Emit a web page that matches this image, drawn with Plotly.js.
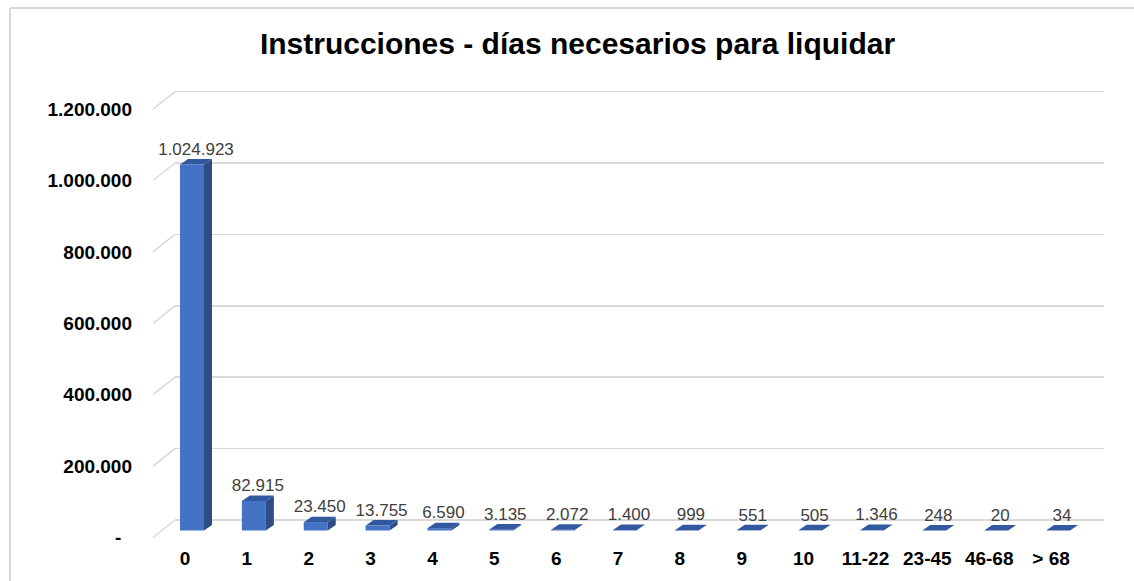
<!DOCTYPE html>
<html>
<head>
<meta charset="utf-8">
<script src="https://cdn.plot.ly/plotly-3.0.1.min.js"></script>
<style>html,body{margin:0;padding:0;background:#fff;}#chart{width:1134px;height:581px;}</style>
</head>
<body>
<div id="chart"></div>
<script>
// ---- data ----
const categories = ["0","1","2","3","4","5","6","7","8","9","10","11-22","23-45","46-68","> 68"];
const instrucciones = [1024923, 82915, 23450, 13755, 6590, 3135, 2072, 1400, 999, 551, 505, 1346, 248, 20, 34];
const yTickVals = [0, 200000, 400000, 600000, 800000, 1000000, 1200000];
const yTickLabels = ["-\u00A0\u00A0", "200.000", "400.000", "600.000", "800.000", "1.000.000", "1.200.000"];
const chartTitle = "Instrucciones - días necesarios para liquidar";

// ---- geometry (pixel-based helpers) ----
const W = 1134, H = 581;
const L = 175, R = 1104, T = 85, B = 545;
const pw = R - L, ph = B - T;
const unitsPerPx = 200000 / 71.4;   // y units per pixel
const catPx = 61.86;                // pixels per category
const barW = 24 / catPx;            // bar width (x units)
const depthX = 8 / catPx;           // 3D depth in x units
const depthY = 5.5 * unitsPerPx;    // 3D depth in y units

function fmt(v){ return String(v).replace(/\B(?=(\d{3})+(?!\d))/g, '.'); }
function yRange(zeroPx){ return [-(B - zeroPx) * unitsPerPx, (zeroPx - T) * unitsPerPx]; }
function xRange(zeroPx){ return [(L - zeroPx) / catPx, (R - zeroPx) / catPx]; }

const idx = categories.map((c, i) => i);

// side & top faces
const sideX = [], sideY = [], topX = [], topY = [];
idx.forEach(i => {
  const v = instrucciones[i];
  const xl = i - barW / 2, xr = i + barW / 2;
  sideX.push(xr, xr + depthX, xr + depthX, xr, xr, null);
  sideY.push(0, depthY, v + depthY, v, 0, null);
  topX.push(xl, xr, xr + depthX, xl + depthX, xl, null);
  topY.push(v, v, v + depthY, v + depthY, v, null);
});

const traces = [
  {type: 'scatter', x: [], y: [], xaxis: 'x', yaxis: 'y', showlegend: false, hoverinfo: 'skip'},
  {type: 'scatter', x: [], y: [], xaxis: 'x', yaxis: 'y3', showlegend: false, hoverinfo: 'skip'},
  {type: 'bar', x: idx, y: instrucciones, width: barW, xaxis: 'x2', yaxis: 'y2',
   marker: {color: '#4472C4', line: {width: 0}}, showlegend: false, hoverinfo: 'skip'},
  {type: 'scatter', mode: 'lines', x: sideX, y: sideY, xaxis: 'x2', yaxis: 'y2', fill: 'toself',
   fillcolor: '#2E4C86', line: {width: 0, color: '#2E4C86'}, showlegend: false, hoverinfo: 'skip'},
  {type: 'scatter', mode: 'lines', x: topX, y: topY, xaxis: 'x2', yaxis: 'y2', fill: 'toself',
   fillcolor: '#3259A0', line: {width: 0, color: '#3259A0'}, showlegend: false, hoverinfo: 'skip'},
  {type: 'scatter', mode: 'text', x: idx.map(i => i + depthX / 2), y: instrucciones.map(v => v + depthY),
   text: instrucciones.map(fmt), textposition: 'top center', cliponaxis: false,
   textfont: {family: 'Liberation Sans, Arial, sans-serif', size: 17, color: '#404040'},
   xaxis: 'x2', yaxis: 'y2', showlegend: false, hoverinfo: 'skip'}
];

// decorative diagonals of the 3D grid (from front labels plane to back wall)
const gridFrontOffset = 17.5 * unitsPerPx;
const shapes = yTickVals.map(v => ({
  type: 'line', xref: 'paper', yref: 'y',
  x0: (153 - L) / pw, x1: 0, y0: v - gridFrontOffset, y1: v,
  line: {color: '#D9D9D9', width: 1.5}
}));
// chart outer frame
const px = p => (p - L) / pw, py = p => (B - p) / ph;
shapes.push({type: 'line', xref: 'paper', yref: 'paper', x0: px(10), x1: px(10), y0: py(8), y1: py(600), line: {color: '#D9D9D9', width: 2}});
shapes.push({type: 'line', xref: 'paper', yref: 'paper', x0: px(10), x1: px(1140), y0: py(8), y1: py(8), line: {color: '#D9D9D9', width: 2}});

const tickFont = {family: 'Liberation Sans, Arial, sans-serif', size: 19, color: '#000000', weight: 'bold'};

const layout = {
  width: W, height: H,
  margin: {l: L, r: W - R, t: T, b: H - B, pad: 0},
  paper_bgcolor: '#ffffff', plot_bgcolor: 'rgba(0,0,0,0)',
  showlegend: false,
  title: {text: chartTitle, x: 577.5 / W, xanchor: 'center', xref: 'container',
          y: 1 - 43 / H, yanchor: 'middle', yref: 'container',
          font: {family: 'Liberation Sans, Arial, sans-serif', size: 30, color: '#000000', weight: 'bold'}},
  xaxis: {range: xRange(185), tickvals: idx, ticktext: categories, showgrid: false, zeroline: false,
          showline: false, ticks: '', tickfont: tickFont, fixedrange: true},
  yaxis: {range: yRange(520), tickvals: yTickVals, showticklabels: false, showgrid: true,
          gridcolor: '#D9D9D9', gridwidth: 1.5, zeroline: false, showline: false, ticks: '', fixedrange: true},
  xaxis2: {overlaying: 'x', anchor: 'y2', range: xRange(192), visible: false, fixedrange: true},
  yaxis2: {overlaying: 'y', anchor: 'x2', range: yRange(530.5), visible: false, fixedrange: true},
  yaxis3: {overlaying: 'y', anchor: 'x', side: 'left', range: yRange(537.5), tickvals: yTickVals,
           ticktext: yTickLabels, showgrid: false, zeroline: false, showline: false, ticks: '',
           ticklabelstandoff: 42, tickfont: tickFont, fixedrange: true},
  shapes: shapes
};

Plotly.newPlot('chart', traces, layout, {displayModeBar: false, staticPlot: true});
</script>
</body>
</html>
